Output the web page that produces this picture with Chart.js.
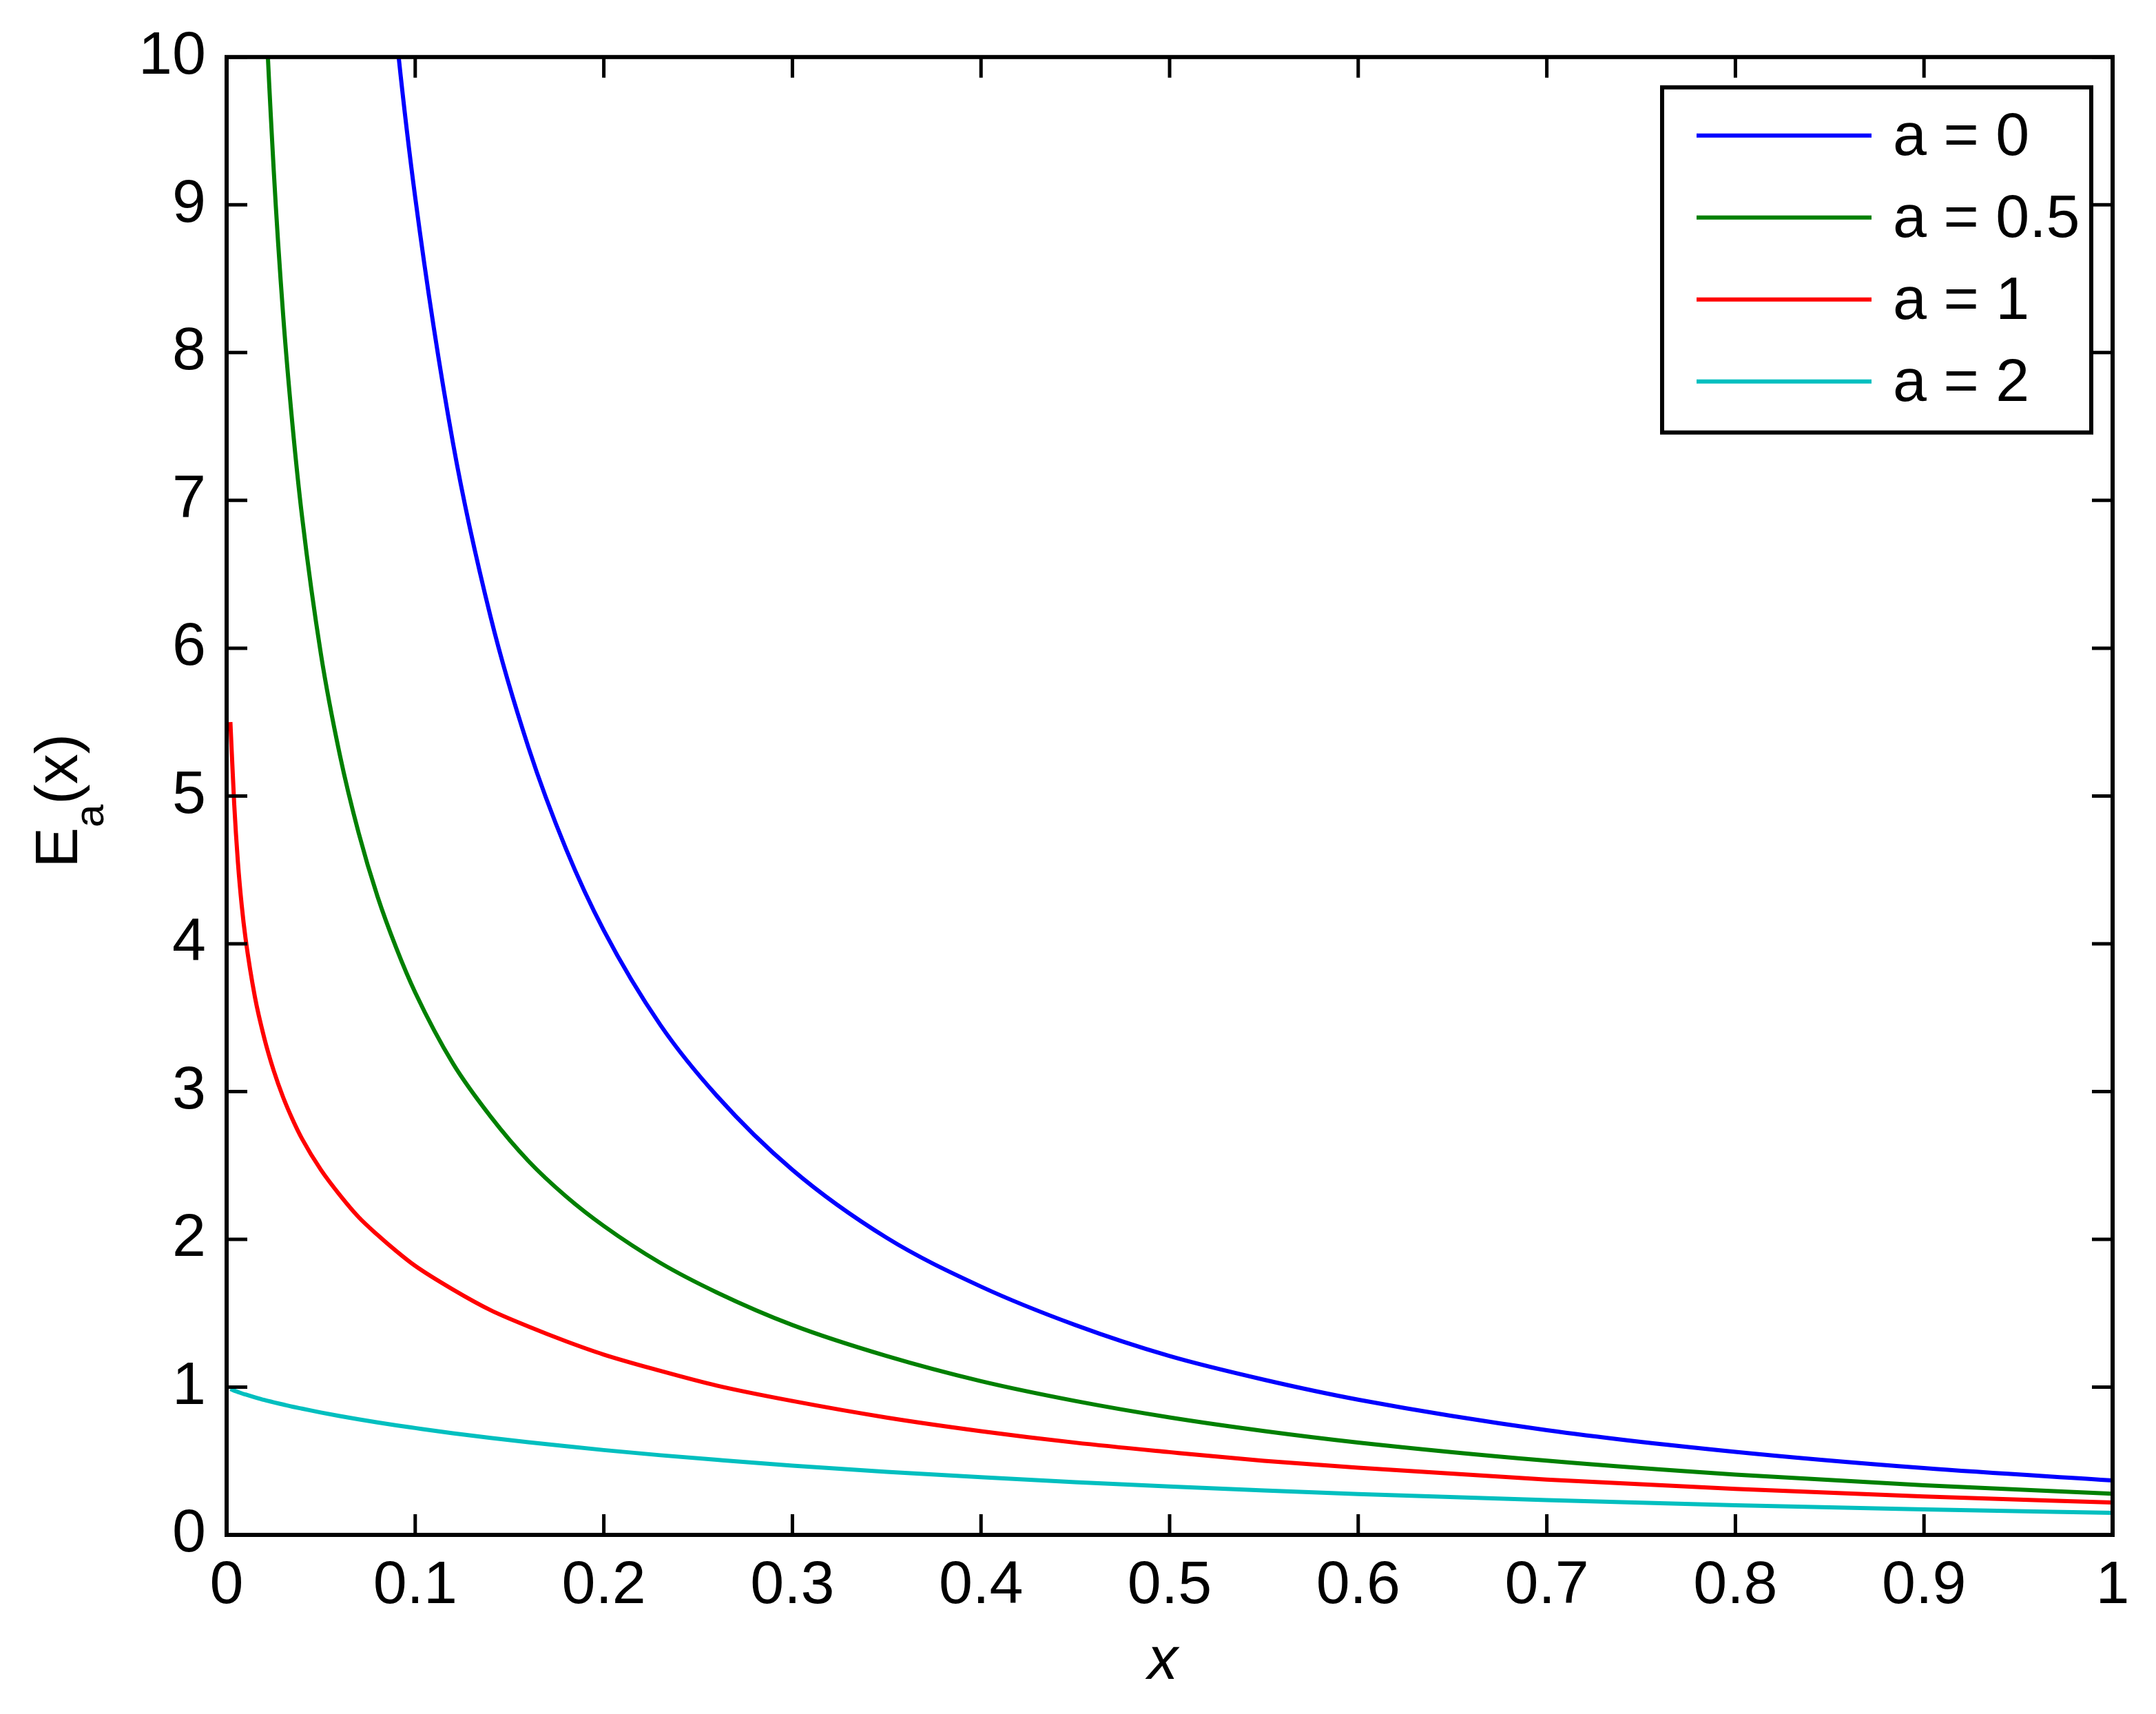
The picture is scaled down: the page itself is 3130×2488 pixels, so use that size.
<!DOCTYPE html>
<html>
<head>
<meta charset="utf-8">
<script src="https://cdn.jsdelivr.net/npm/chart.js@4.4.1/dist/chart.umd.min.js"></script>
<style>
  body { margin: 0; background: #fff; }
  #wrap { width: 3130px; height: 2488px; }
</style>
</head>
<body>
<div id="wrap"><canvas id="myChart" width="3130" height="2488"></canvas></div>
<script>
const xs = [0.002, 0.004, 0.006, 0.008, 0.01, 0.015, 0.02, 0.025, 0.03, 0.035, 0.04, 0.05, 0.06, 0.07, 0.08, 0.09,
            0.1, 0.12, 0.14, 0.16, 0.18, 0.2, 0.23, 0.26, 0.3, 0.35, 0.4, 0.45, 0.5, 0.55, 0.6, 0.7, 0.8, 0.9, 1.0];

// E_a(x) for each a (null = off the top of the plot)
const ea0 = [null, null, null, null, null, null, null, null, null, null, null, null, null, 13.3, 11.54, 10.15,
             9.05, 7.39, 6.21, 5.33, 4.64, 4.09, 3.45, 2.97, 2.47, 2.01, 1.68, 1.42, 1.21, 1.05, 0.915, 0.709, 0.562, 0.452, 0.368];
const ea05 = [null, null, null, null, null, 12.48, 10.55, 9.23, 8.25, 7.50, 6.89, 5.96, 5.28, 4.75, 4.32, 3.97,
              3.67, 3.19, 2.83, 2.53, 2.29, 2.09, 1.84, 1.64, 1.42, 1.21, 1.04, 0.906, 0.795, 0.703, 0.625, 0.502, 0.408, 0.336, 0.279];
const ea1 = [5.5, 4.95, 4.55, 4.26, 4.04, 3.64, 3.36, 3.14, 2.96, 2.81, 2.68, 2.47, 2.30, 2.15, 2.03, 1.92,
             1.82, 1.66, 1.52, 1.41, 1.31, 1.22, 1.11, 1.01, 0.906, 0.794, 0.702, 0.624, 0.560, 0.501, 0.454, 0.374, 0.311, 0.260, 0.219];
const ea2 = [0.987, 0.976, 0.967, 0.958, 0.950, 0.931, 0.913, 0.897, 0.882, 0.867, 0.854, 0.828, 0.804, 0.782, 0.761, 0.741,
             0.723, 0.688, 0.656, 0.627, 0.600, 0.574, 0.539, 0.508, 0.469, 0.427, 0.390, 0.357, 0.327, 0.301, 0.276, 0.235, 0.200, 0.173, 0.149];

const seriesLabels = ['a = 0', 'a = 0.5', 'a = 1', 'a = 2'];
const seriesColors = ['#0000ff', '#008000', '#ff0000', '#00bfbf'];

const xTicks = [0, 0.1, 0.2, 0.3, 0.4, 0.5, 0.6, 0.7, 0.8, 0.9, 1];
const xTickLabels = ['0', '0.1', '0.2', '0.3', '0.4', '0.5', '0.6', '0.7', '0.8', '0.9', '1'];
const yTicks = [0, 1, 2, 3, 4, 5, 6, 7, 8, 9, 10];
const yTickLabels = ['0', '1', '2', '3', '4', '5', '6', '7', '8', '9', '10'];

const fontFamily = "'Liberation Sans Narrow', 'Liberation Sans', Arial, sans-serif";
const fontSize = 88;

function toPoints(arr) {
    return xs.map(function(x, i) { return { x: x, y: arr[i] }; });
}

// box, inward ticks, legend and axis titles drawn like the matlab figure
const framePlugin = {
    id: 'frame',
    afterDatasetsDraw: function(chart) {
        var ctx = chart.ctx;
        var a = chart.chartArea;
        var sx = chart.scales.x, sy = chart.scales.y;
        var tickLen = 30;
        ctx.save();
        ctx.strokeStyle = '#000';
        ctx.lineWidth = 6;
        ctx.strokeRect(a.left, a.top, a.right - a.left, a.bottom - a.top);

        ctx.lineWidth = 5;
        ctx.beginPath();
        xTicks.forEach(function(v) {
            var px = sx.getPixelForValue(v);
            ctx.moveTo(px, a.bottom); ctx.lineTo(px, a.bottom - tickLen);
            ctx.moveTo(px, a.top); ctx.lineTo(px, a.top + tickLen);
        });
        yTicks.forEach(function(v) {
            var py = sy.getPixelForValue(v);
            ctx.moveTo(a.left, py); ctx.lineTo(a.left + tickLen, py);
            ctx.moveTo(a.right, py); ctx.lineTo(a.right - tickLen, py);
        });
        ctx.stroke();

        // legend box
        var bw = 623, bh = 501;
        var bx = a.right - 31 - bw, by = a.top + 44;
        ctx.fillStyle = '#fff';
        ctx.fillRect(bx, by, bw, bh);
        ctx.lineWidth = 6;
        ctx.strokeRect(bx, by, bw, bh);
        ctx.font = fontSize + 'px ' + fontFamily;
        ctx.textAlign = 'left';
        ctx.textBaseline = 'middle';
        chart.data.datasets.forEach(function(ds, i) {
            var ry = by + 70 + i * 119;
            ctx.strokeStyle = ds.borderColor;
            ctx.lineWidth = 6;
            ctx.beginPath();
            ctx.moveTo(bx + 50, ry);
            ctx.lineTo(bx + 304, ry);
            ctx.stroke();
            ctx.fillStyle = '#000';
            ctx.fillText(ds.label, bx + 335, ry + 4);
        });

        // x axis title
        ctx.fillStyle = '#000';
        ctx.font = 'italic ' + fontSize + 'px ' + fontFamily;
        ctx.textAlign = 'center';
        ctx.textBaseline = 'alphabetic';
        ctx.fillText('x', (a.left + a.right) / 2 - 10, 2437);

        // y axis title E_a(x), rotated
        var mainFont = fontSize + 'px ' + fontFamily;
        var subFont = '60px ' + fontFamily;
        ctx.font = mainFont;
        var wE = ctx.measureText('E').width;
        var wP = ctx.measureText('(x)').width;
        ctx.font = subFont;
        var wA = ctx.measureText('a').width;
        var total = wE + wA + wP;
        var cy = (a.top + a.bottom) / 2 + 7;
        ctx.translate(112, cy + total / 2);
        ctx.rotate(-Math.PI / 2);
        ctx.textAlign = 'left';
        ctx.font = mainFont;
        ctx.fillText('E', 0, 0);
        ctx.font = subFont;
        ctx.fillText('a', wE, 38);
        ctx.font = mainFont;
        ctx.fillText('(x)', wE + wA, 0);
        ctx.restore();
    }
};

const datasets = [ea0, ea05, ea1, ea2].map(function(arr, i) {
    return {
        label: seriesLabels[i],
        data: toPoints(arr),
        borderColor: seriesColors[i],
        backgroundColor: seriesColors[i],
        borderWidth: 6,
        pointRadius: 0,
        fill: false,
        spanGaps: false,
        cubicInterpolationMode: 'monotone'
    };
});

var myChart = new Chart(document.getElementById('myChart'), {
    type: 'line',
    data: { datasets: datasets },
    options: {
        responsive: false,
        animation: false,
        devicePixelRatio: 1,
        layout: {
            autoPadding: false,
            padding: { left: 0, top: 80, right: 63, bottom: 0 }
        },
        plugins: {
            legend: { display: false },
            tooltip: { enabled: false }
        },
        scales: {
            x: {
                type: 'linear',
                position: 'bottom',
                min: 0,
                max: 1,
                grid: { display: false, drawTicks: false },
                border: { display: false },
                afterBuildTicks: function(scale) {
                    scale.ticks = xTicks.map(function(v) { return { value: v }; });
                },
                afterFit: function(scale) { scale.height = 260; },
                ticks: {
                    autoSkip: false,
                    maxRotation: 0,
                    padding: 22,
                    color: '#000',
                    font: { family: fontFamily, size: fontSize },
                    callback: function(value, index) { return xTickLabels[index]; }
                }
            },
            y: {
                type: 'linear',
                min: 0,
                max: 10,
                grid: { display: false, drawTicks: false },
                border: { display: false },
                afterBuildTicks: function(scale) {
                    scale.ticks = yTicks.map(function(v) { return { value: v }; });
                },
                afterFit: function(scale) { scale.width = 329; },
                ticks: {
                    autoSkip: false,
                    padding: 30,
                    color: '#000',
                    font: { family: fontFamily, size: fontSize },
                    callback: function(value, index) { return yTickLabels[index]; }
                }
            }
        }
    },
    plugins: [framePlugin]
});
</script>
</body>
</html>
